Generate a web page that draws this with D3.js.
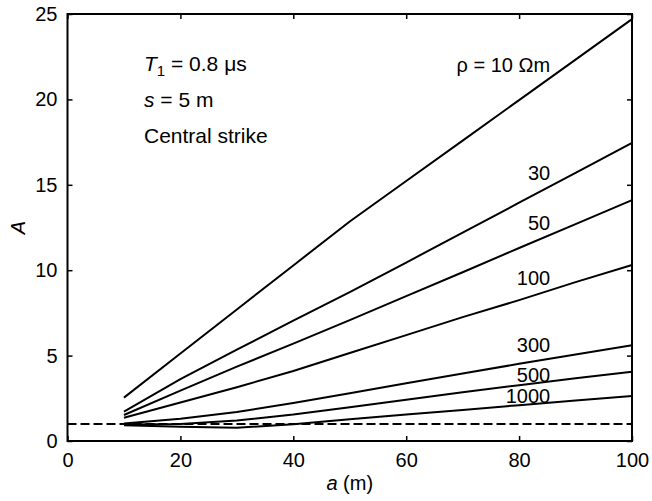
<!DOCTYPE html>
<html>
<head>
<meta charset="utf-8">
<script src="https://d3js.org/d3.v7.min.js"></script>
<style>
  body { margin: 0; background: #fff; }
  text { font-family: "Liberation Sans", Arial, sans-serif; fill: #000; }
</style>
</head>
<body>
<div id="graph"></div>
<script>
// data
var aValues = [10, 20, 30, 40, 50, 60, 70, 80, 90, 100];
var rho10   = [2.54, 5.12, 7.7, 10.28, 12.85, 15.22, 17.59, 19.96, 22.33, 24.7];
var rho30   = [1.72, 3.62, 5.35, 7.05, 8.72, 10.45, 12.2, 13.95, 15.7, 17.46];
var rho50   = [1.52, 2.95, 4.35, 5.7, 7.08, 8.48, 9.88, 11.3, 12.7, 14.1];
var rho100  = [1.36, 2.25, 3.15, 4.1, 5.15, 6.2, 7.25, 8.25, 9.3, 10.3];
var rho300  = [1.02, 1.3, 1.7, 2.22, 2.8, 3.38, 3.95, 4.52, 5.07, 5.6];
var rho500  = [0.97, 1.0, 1.2, 1.55, 1.98, 2.42, 2.85, 3.27, 3.67, 4.06];
var rho1000 = [0.92, 0.83, 0.78, 0.98, 1.28, 1.55, 1.82, 2.1, 2.37, 2.63];
var seriesNames = ["\u03c1 = 10 \u03a9m", "30", "50", "100", "300", "500", "1000"];
var labelA = [21.6, 15.28, 12.35, 9.13, 5.21, 3.45, 2.22];
var refLine = [1, 1];
var refA = [0, 100];
var xTicks = [0, 20, 40, 60, 80, 100];
var yTicks = [0, 5, 10, 15, 20, 25];

var allSeries = [rho10, rho30, rho50, rho100, rho300, rho500, rho1000];

var w = 652, h = 501;
var pLeft = 67.5, pRight = 632, pTop = 14, pBottom = 441;

var svg = d3.select("#graph")
            .append("svg")
            .attr("width", w)
            .attr("height", h);

var x = d3.scaleLinear().domain([0, 100]).range([pLeft, pRight]);
var y = d3.scaleLinear().domain([0, 25]).range([pBottom, pTop]);

// axes with inward ticks
var tickLen = 5;
function styleAxis(g) {
  g.select(".domain").remove();
  g.selectAll(".tick line").attr("stroke", "#000").attr("stroke-width", 1.5);
  g.selectAll(".tick text").attr("font-size", "20px")
    .attr("font-family", "'Liberation Sans', Arial, sans-serif");
}

svg.append("g")
   .attr("transform", "translate(0," + pBottom + ")")
   .call(d3.axisBottom(x).tickValues(xTicks).tickSizeInner(-tickLen).tickSizeOuter(0).tickPadding(12))
   .call(styleAxis);

svg.append("g")
   .attr("transform", "translate(" + pLeft + ",0)")
   .call(d3.axisLeft(y).tickValues(yTicks).tickSizeInner(-tickLen).tickSizeOuter(0).tickPadding(10))
   .call(styleAxis);

svg.append("g")
   .attr("transform", "translate(0," + pTop + ")")
   .call(d3.axisTop(x).tickValues(xTicks).tickSizeInner(-tickLen).tickSizeOuter(0).tickFormat(""))
   .call(styleAxis);

svg.append("g")
   .attr("transform", "translate(" + pRight + ",0)")
   .call(d3.axisRight(y).tickValues(yTicks).tickSizeInner(-tickLen).tickSizeOuter(0).tickFormat(""))
   .call(styleAxis);

// frame
svg.append("rect")
   .attr("x", pLeft).attr("y", pTop)
   .attr("width", pRight - pLeft).attr("height", pBottom - pTop)
   .attr("fill", "none").attr("stroke", "#000").attr("stroke-width", 2);

// curves
var line = d3.line()
    .x(function(d, i) { return x(aValues[i]); })
    .y(function(d) { return y(d); });

svg.selectAll("path.curve")
   .data(allSeries)
   .enter()
   .append("path")
   .attr("class", "curve")
   .attr("d", line)
   .attr("fill", "none")
   .attr("stroke", "#000")
   .attr("stroke-width", 2);

// dashed reference A = 1
svg.append("path")
   .attr("d", d3.line().x(function(d, i) { return x(refA[i]); }).y(function(d) { return y(d); })(refLine))
   .attr("fill", "none")
   .attr("stroke", "#000")
   .attr("stroke-width", 2)
   .attr("stroke-dasharray", "9,4");

// curve labels
svg.selectAll("text.lab")
   .data(seriesNames)
   .enter()
   .append("text")
   .attr("class", "lab")
   .attr("x", x(85.5))
   .attr("y", function(d, i) { return y(labelA[i]); })
   .attr("text-anchor", "end")
   .attr("font-size", "20px")
   .text(function(d) { return d; });

// annotation block
var t1 = svg.append("text").attr("x", 144).attr("y", 71).attr("font-size", "21px");
t1.append("tspan").attr("font-style", "italic").text("T");
t1.append("tspan").attr("font-size", "15px").attr("dy", 5).text("1");
t1.append("tspan").attr("dy", -5).text(" = 0.8 \u03bcs");

var t2 = svg.append("text").attr("x", 144).attr("y", 107).attr("font-size", "21px");
t2.append("tspan").attr("font-style", "italic").text("s");
t2.append("tspan").text(" = 5 m");

svg.append("text").attr("x", 144).attr("y", 143).attr("font-size", "21px").text("Central strike");

// axis titles
var xl = svg.append("text")
   .attr("x", (pLeft + pRight) / 2)
   .attr("y", 490)
   .attr("text-anchor", "middle")
   .attr("font-size", "20px");
xl.append("tspan").attr("font-style", "italic").text("a");
xl.append("tspan").text(" (m)");

svg.append("text")
   .attr("transform", "translate(25," + (pTop + pBottom) / 2 + ") rotate(-90)")
   .attr("text-anchor", "middle")
   .attr("font-size", "20px")
   .attr("font-style", "italic")
   .text("A");
</script>
</body>
</html>
